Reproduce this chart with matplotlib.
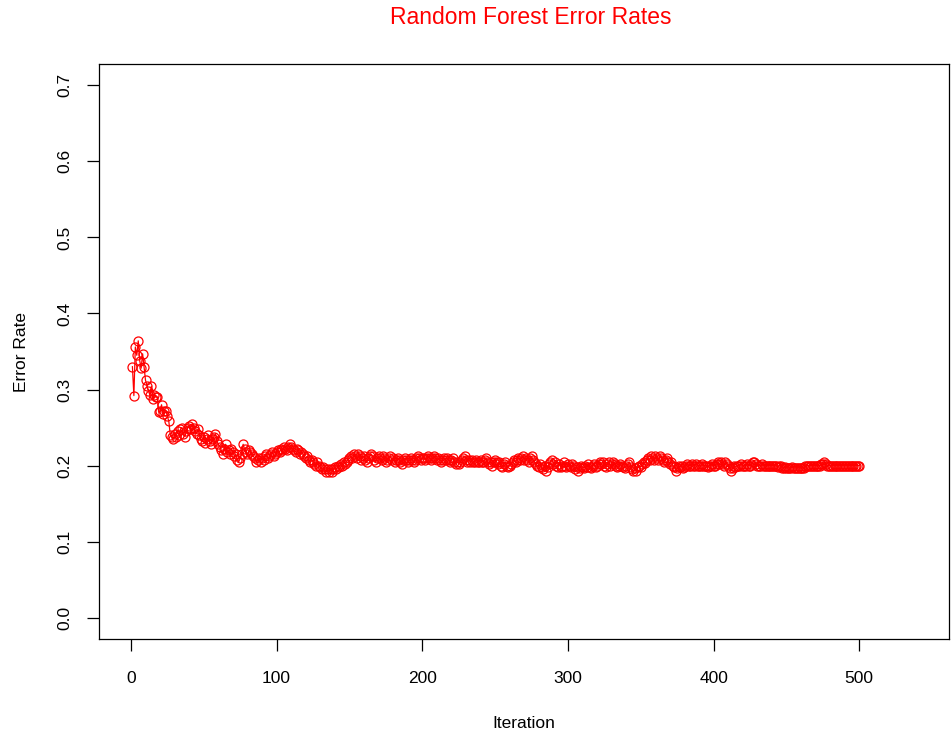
import numpy as np
import matplotlib
matplotlib.use("Agg")
import matplotlib.pyplot as plt

# OOB error rate per iteration
err_1_100 = [
    0.330, 0.292, 0.356, 0.345, 0.364, 0.338, 0.328, 0.347, 0.330, 0.312,
    0.305, 0.298, 0.293, 0.304, 0.287, 0.293, 0.290, 0.290, 0.270, 0.272,
    0.280, 0.268, 0.272, 0.272, 0.265, 0.258, 0.240, 0.238, 0.235, 0.242,
    0.238, 0.245, 0.240, 0.248, 0.250, 0.242, 0.238, 0.245, 0.250, 0.252,
    0.248, 0.255, 0.250, 0.245, 0.242, 0.248, 0.240, 0.235, 0.232, 0.238,
    0.230, 0.235, 0.240, 0.232, 0.228, 0.235, 0.238, 0.242, 0.232, 0.228,
    0.225, 0.220, 0.215, 0.222, 0.228, 0.218, 0.220, 0.215, 0.222, 0.218,
    0.212, 0.215, 0.208, 0.205, 0.210, 0.215, 0.228, 0.222, 0.218, 0.215,
    0.220, 0.218, 0.215, 0.212, 0.210, 0.205, 0.208, 0.210, 0.205, 0.210,
    0.208, 0.212, 0.215, 0.210, 0.212, 0.215, 0.218, 0.212, 0.215, 0.218,
]
err_101_200 = [
    0.220, 0.218, 0.222, 0.220, 0.225, 0.222, 0.220, 0.225, 0.228, 0.225,
    0.222, 0.220, 0.218, 0.222, 0.220, 0.215, 0.218, 0.215, 0.212, 0.210,
    0.212, 0.208, 0.205, 0.208, 0.205, 0.202, 0.200, 0.205, 0.200, 0.198,
    0.195, 0.198, 0.195, 0.192, 0.195, 0.192, 0.195, 0.192, 0.195, 0.198,
    0.195, 0.200, 0.198, 0.202, 0.200, 0.205, 0.202, 0.205, 0.208, 0.210,
    0.212, 0.210, 0.215, 0.212, 0.210, 0.215, 0.212, 0.208, 0.210, 0.212,
    0.208, 0.205, 0.210, 0.212, 0.215, 0.212, 0.208, 0.205, 0.210, 0.212,
    0.210, 0.208, 0.212, 0.210, 0.205, 0.208, 0.210, 0.212, 0.208, 0.210,
    0.205, 0.208, 0.210, 0.208, 0.205, 0.202, 0.208, 0.210, 0.208, 0.205,
    0.208, 0.210, 0.208, 0.205, 0.208, 0.210, 0.212, 0.210, 0.208, 0.210,
]
err_201_300 = [
    0.210, 0.208, 0.210, 0.212, 0.210, 0.208, 0.210, 0.212, 0.210, 0.208,
    0.210, 0.208, 0.205, 0.208, 0.210, 0.208, 0.210, 0.208, 0.205, 0.208,
    0.210, 0.205, 0.202, 0.205, 0.202, 0.205, 0.208, 0.210, 0.212, 0.208,
    0.205, 0.208, 0.205, 0.208, 0.205, 0.205, 0.208, 0.205, 0.205, 0.208,
    0.205, 0.205, 0.208, 0.210, 0.205, 0.202, 0.205, 0.200, 0.205, 0.208,
    0.205, 0.202, 0.205, 0.200, 0.198, 0.202, 0.205, 0.200, 0.198, 0.200,
    0.202, 0.205, 0.208, 0.205, 0.208, 0.210, 0.208, 0.210, 0.212, 0.208,
    0.210, 0.208, 0.205, 0.210, 0.212, 0.208, 0.205, 0.202, 0.200, 0.198,
    0.202, 0.198, 0.195, 0.200, 0.193, 0.198, 0.202, 0.205, 0.208, 0.202,
    0.205, 0.200, 0.198, 0.202, 0.198, 0.200, 0.205, 0.200, 0.198, 0.202,
]
err_301_400 = [
    0.200, 0.198, 0.202, 0.200, 0.195, 0.198, 0.193, 0.197, 0.200, 0.198,
    0.197, 0.200, 0.198, 0.202, 0.198, 0.197, 0.200, 0.202, 0.198, 0.200,
    0.202, 0.205, 0.202, 0.205, 0.200, 0.198, 0.202, 0.205, 0.200, 0.202,
    0.205, 0.202, 0.200, 0.198, 0.200, 0.202, 0.200, 0.198, 0.197, 0.200,
    0.202, 0.205, 0.198, 0.195, 0.193, 0.197, 0.193, 0.198, 0.200, 0.198,
    0.202, 0.205, 0.203, 0.208, 0.210, 0.208, 0.212, 0.210, 0.208, 0.212,
    0.210, 0.208, 0.212, 0.210, 0.208, 0.205, 0.208, 0.210, 0.205, 0.202,
    0.205, 0.200, 0.198, 0.193, 0.197, 0.200, 0.198, 0.200, 0.197, 0.198,
    0.200, 0.202, 0.200, 0.200, 0.202, 0.200, 0.200, 0.202, 0.200, 0.200,
    0.200, 0.202, 0.200, 0.200, 0.200, 0.198, 0.200, 0.200, 0.202, 0.200,
]
err_401_500 = [
    0.200, 0.202, 0.205, 0.202, 0.205, 0.202, 0.200, 0.205, 0.202, 0.200,
    0.197, 0.193, 0.197, 0.200, 0.198, 0.200, 0.200, 0.200, 0.202, 0.200,
    0.200, 0.200, 0.202, 0.200, 0.200, 0.202, 0.205, 0.205, 0.202, 0.200,
    0.200, 0.200, 0.202, 0.200, 0.200, 0.200, 0.200, 0.200, 0.200, 0.200,
    0.200, 0.200, 0.200, 0.198, 0.200, 0.200, 0.197, 0.197, 0.198, 0.197,
    0.197, 0.197, 0.197, 0.198, 0.197, 0.197, 0.197, 0.197, 0.197, 0.197,
    0.197, 0.197, 0.200, 0.200, 0.200, 0.200, 0.200, 0.200, 0.200, 0.200,
    0.200, 0.200, 0.200, 0.202, 0.202, 0.205, 0.202, 0.200, 0.200, 0.200,
    0.200, 0.200, 0.200, 0.200, 0.200, 0.200, 0.200, 0.200, 0.200, 0.200,
    0.200, 0.200, 0.200, 0.200, 0.200, 0.200, 0.200, 0.200, 0.200, 0.200,
]
x_ticks = [0, 100, 200, 300, 400, 500]
y_ticks = [0.0, 0.1, 0.2, 0.3, 0.4, 0.5, 0.6, 0.7]

err = np.array(err_1_100 + err_101_200 + err_201_300 + err_301_400 + err_401_500)
iters = np.arange(1, len(err) + 1)

plt.rcParams['font.family'] = ['Liberation Sans', 'DejaVu Sans']

fig = plt.figure(figsize=(9.53, 7.31), dpi=100)
ax = fig.add_axes([99.5 / 953, 92 / 731, (949 - 99.5) / 953, (639 - 64) / 731])

ax.plot(iters, err, color='red', lw=0.9, marker='o', markersize=6.5,
        markerfacecolor='none', markeredgecolor='red', markeredgewidth=0.9)

# R style axis limits (4% padding)
ax.set_xlim(-0.04 * 540, 540 * 1.04)
ax.set_ylim(-0.04 * 0.7, 0.7 * 1.04)
ax.set_xticks(x_ticks)
ax.set_yticks(y_ticks)
ax.set_yticklabels([f"{v:.1f}" for v in y_ticks], rotation=90, va='center')
ax.tick_params(direction='out', length=8.3, width=0.9, labelsize=12.5)
ax.tick_params(axis='x', pad=15)
ax.tick_params(axis='y', pad=11)
for s in ax.spines.values():
    s.set_linewidth(0.9)

ax.set_xlabel("Iteration", fontsize=12.5, labelpad=21)
ax.set_ylabel("Error Rate", fontsize=12.5, labelpad=21)
fig.text(531 / 953, 1 - 18 / 731, "Random Forest Error Rates", color='red',
         fontsize=16.5, ha='center', va='center')

fig.savefig("out.png", dpi=100)
